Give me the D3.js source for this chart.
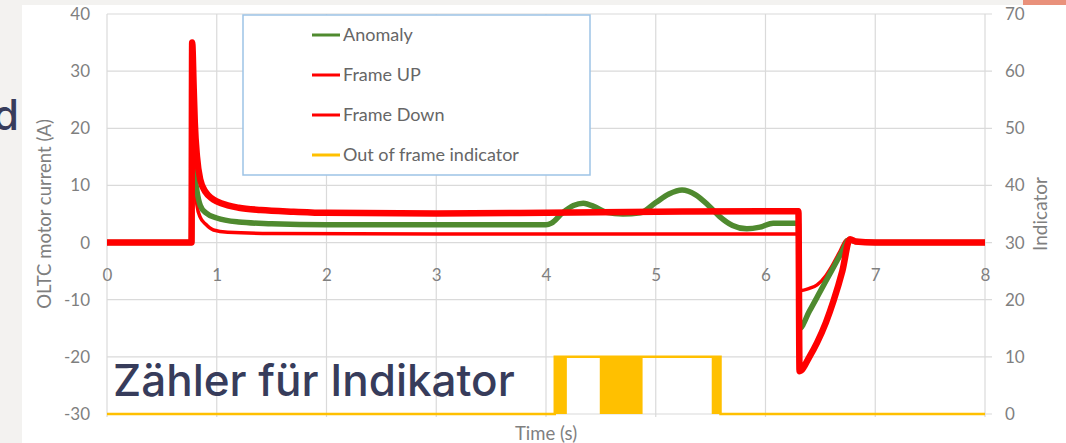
<!DOCTYPE html>
<html>
<head>
<meta charset="utf-8">
<script src="https://cdn.jsdelivr.net/npm/d3@7"></script>
<style>
  html, body { margin: 0; padding: 0; background: #f3f2f0; }
  svg { display: block; }
</style>
</head>
<body>
<svg id="chart" width="1066" height="443"></svg>
<script>
// OLTC motor current traces (A) against time (s)
const frameUp = [
  [0, 0], [0.77, 0], [0.776, 35], [0.79, 27], [0.8, 21], [0.82, 15], [0.85, 11],
  [0.9, 8.8], [0.95, 7.8], [1.0, 7.2], [1.1, 6.5], [1.2, 6.1], [1.4, 5.7],
  [1.7, 5.4], [2, 5.2], [3, 5.1], [4, 5.2], [5, 5.4], [6, 5.5], [6.3, 5.5],
  [6.31, -22.5], [6.4, -20], [6.47, -17.5], [6.55, -14], [6.62, -10.2],
  [6.7, -5], [6.77, 0.6], [6.82, 0.2], [7, 0], [8, 0]
];
const anomaly = [
  [0, 0], [0.77, 0], [0.776, 20], [0.79, 14], [0.82, 9], [0.85, 6.5], [0.9, 5.2],
  [1.0, 4.3], [1.2, 3.6], [1.5, 3.3], [2, 3.1], [3, 3.1], [4, 3.1], [4.05, 3.4],
  [4.15, 5.2], [4.25, 6.5], [4.34, 6.9], [4.45, 6.2], [4.55, 5.3], [4.7, 5],
  [4.86, 5.2], [5.0, 7], [5.12, 8.5], [5.24, 9.2], [5.36, 8.4], [5.48, 6.5],
  [5.58, 4.6], [5.7, 3], [5.83, 2.4], [5.95, 2.7], [6.07, 3.4], [6.3, 3.4],
  [6.31, -15], [6.4, -12], [6.5, -8.5], [6.6, -5], [6.7, -1.5], [6.76, 0.5],
  [6.82, 0.2], [7, 0], [8, 0]
];
const frameDown = [
  [0, 0], [0.77, 0], [0.776, 31], [0.785, 20], [0.8, 11], [0.82, 6.5], [0.85, 4.4],
  [0.9, 3.2], [0.97, 2.2], [1.1, 1.8], [1.5, 1.6], [3, 1.5], [6.3, 1.5],
  [6.31, -8.4], [6.4, -8], [6.47, -7.4], [6.55, -5.8], [6.6, -4.3], [6.68, -1.5],
  [6.74, 0.5], [6.8, 0.2], [7, 0], [8, 0]
];

// Out-of-frame indicator (right axis): level steps and fast-toggling bursts
const indicatorSteps = [[0, 0], [4.08, 0], [4.08, 10], [5.59, 10], [5.59, 0], [8, 0]];
const indicatorBursts = [[4.08, 4.19], [4.49, 4.88], [5.51, 5.59]];

// Axis ticks and labels
const xTicks = [0, 1, 2, 3, 4, 5, 6, 7, 8];
const leftTicks = [-30, -20, -10, 0, 10, 20, 30, 40];
const rightTicks = [0, 10, 20, 30, 40, 50, 60, 70];
const legendLabels = ["Anomaly", "Frame UP", "Frame Down", "Out of frame indicator"];
const legendColors = ["#4f8a2f", "#ff0000", "#ff0000", "#ffc000"];

const svg = d3.select("#chart");
const W = 1066, H = 443;
const plot = { left: 107, right: 985, top: 14, bottom: 414 };

const x = d3.scaleLinear().domain([0, 8]).range([plot.left, plot.right]);
const yL = d3.scaleLinear().domain([-30, 40]).range([plot.bottom, plot.top]);
const yR = d3.scaleLinear().domain([0, 70]).range([plot.bottom, plot.top]);

// slide background panel
svg.append("rect").attr("x", 22).attr("y", 5).attr("width", W - 22).attr("height", H - 5)
  .attr("fill", "#ffffff");
svg.append("rect").attr("x", 1023).attr("y", 0).attr("width", 43).attr("height", 5)
  .attr("fill", "#e9917b");

const axisFont = "Lato, 'Open Sans', sans-serif";
const gray = "#7f7f7f";
const plain = d => String(d);

// gridlines
const grid = svg.append("g");
grid.selectAll("line.h").data(leftTicks).join("line")
  .attr("x1", plot.left).attr("x2", plot.right + 7)
  .attr("y1", d => yL(d)).attr("y2", d => yL(d))
  .attr("stroke", "#dadada").attr("stroke-width", 1.2);
grid.selectAll("line.v").data(xTicks).join("line")
  .attr("x1", d => x(d)).attr("x2", d => x(d))
  .attr("y1", plot.top).attr("y2", plot.bottom + 3)
  .attr("stroke", "#dadada").attr("stroke-width", 1.2);

// axes (labels only, Excel style)
function styleAxis(g) {
  g.select(".domain").remove();
  g.selectAll("text").attr("fill", gray).style("font-family", axisFont).style("font-size", "17px");
}
svg.append("g").attr("transform", `translate(${plot.left},0)`)
  .call(d3.axisLeft(yL).tickValues(leftTicks).tickFormat(plain).tickSize(0).tickPadding(17))
  .call(styleAxis);
svg.append("g").attr("transform", `translate(${plot.right},0)`)
  .call(d3.axisRight(yR).tickValues(rightTicks).tickFormat(plain).tickSize(0).tickPadding(20))
  .call(styleAxis);
svg.append("g").attr("transform", `translate(0,${yL(0)})`)
  .call(d3.axisBottom(x).tickValues(xTicks).tickFormat(plain).tickSize(0).tickPadding(26))
  .call(styleAxis);

// axis titles
svg.append("text")
  .attr("transform", `translate(51,${(plot.top + plot.bottom) / 2}) rotate(-90)`)
  .attr("text-anchor", "middle").attr("fill", gray)
  .style("font-family", axisFont).style("font-size", "18.5px")
  .text("OLTC motor current (A)");
svg.append("text")
  .attr("transform", `translate(1047,${(plot.top + plot.bottom) / 2}) rotate(-90)`)
  .attr("text-anchor", "middle").attr("fill", gray)
  .style("font-family", axisFont).style("font-size", "19px")
  .text("Indicator");
svg.append("text")
  .attr("x", (plot.left + plot.right) / 2).attr("y", 440)
  .attr("text-anchor", "middle").attr("fill", gray)
  .style("font-family", axisFont).style("font-size", "18.5px")
  .text("Time (s)");

// indicator
const indLine = d3.line().x(d => x(d[0])).y(d => yR(d[1]));
svg.append("path").datum(indicatorSteps).attr("d", indLine)
  .attr("fill", "none").attr("stroke", "#ffc000").attr("stroke-width", 2.5);
svg.selectAll("rect.burst").data(indicatorBursts).join("rect")
  .attr("x", d => x(d[0])).attr("width", d => x(d[1]) - x(d[0]))
  .attr("y", yR(10)).attr("height", yR(0) - yR(10))
  .attr("fill", "#ffc000");

// current traces
const curLine = d3.line().x(d => x(d[0])).y(d => yL(d[1])).curve(d3.curveMonotoneX);
svg.append("path").datum(frameDown).attr("d", curLine)
  .attr("fill", "none").attr("stroke", "#ff0000").attr("stroke-width", 3.5)
  .attr("stroke-linejoin", "round");
svg.append("path").datum(anomaly).attr("d", curLine)
  .attr("fill", "none").attr("stroke", "#4f8a2f").attr("stroke-width", 5.5)
  .attr("stroke-linejoin", "round");
svg.append("path").datum(frameUp).attr("d", curLine)
  .attr("fill", "none").attr("stroke", "#ff0000").attr("stroke-width", 6.5)
  .attr("stroke-linejoin", "round");

// legend
const lg = svg.append("g");
lg.append("rect").attr("x", 243).attr("y", 15).attr("width", 347).attr("height", 160)
  .attr("fill", "#ffffff").attr("stroke", "#9dc3e6").attr("stroke-width", 1.5);
const items = lg.selectAll("g.item").data(legendLabels).join("g")
  .attr("transform", (d, i) => `translate(312,${35 + i * 40})`);
items.append("line").attr("x1", 0).attr("x2", 28).attr("y1", 0).attr("y2", 0)
  .attr("stroke", (d, i) => legendColors[i]).attr("stroke-width", 3);
items.append("text").attr("x", 31).attr("y", 0).attr("dy", "0.35em")
  .attr("fill", "#666666").style("font-family", axisFont).style("font-size", "18px")
  .text(d => d);

// slide overlay text
const slideFont = "Inter, 'Noto Sans', sans-serif";
svg.append("text").attr("x", 113).attr("y", 396)
  .attr("fill", "#373c5b").style("font-family", slideFont).style("font-size", "44px")
  .style("font-weight", 500)
  .text("Zähler für Indikator");
svg.append("text").attr("x", 19).attr("y", 130).attr("text-anchor", "end")
  .attr("fill", "#373c5b").style("font-family", slideFont).style("font-size", "42px")
  .style("font-weight", 500)
  .text("d");
</script>
</body>
</html>
